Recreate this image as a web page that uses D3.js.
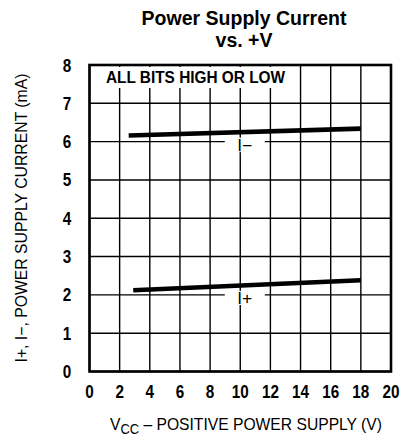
<!DOCTYPE html>
<html><head><meta charset="utf-8">
<script src="https://cdn.jsdelivr.net/npm/d3@7"></script>
<style>
html,body{margin:0;padding:0;background:#fff;}
svg{display:block;}
</style></head>
<body>
<svg id="chart" width="406" height="440"></svg>
<script>
// Data
const xTicks = [0, 2, 4, 6, 8, 10, 12, 14, 16, 18, 20];
const yTicks = [0, 1, 2, 3, 4, 5, 6, 7, 8];
const seriesNames = ["I−", "I+"];
const iMinusV = [2.6, 18];
const iMinusI = [6.16, 6.34];
const iPlusV = [2.9, 18];
const iPlusI = [2.12, 2.38];
const seriesLabelV = [10.3, 10.3];
const seriesLabelI = [6, 2];
const titleLines = ["Power Supply Current", "vs. +V"];
const yTitle = "I+, I−, POWER SUPPLY CURRENT (mA)";
const noteText = "ALL BITS HIGH OR LOW";

const svg = d3.select("#chart");
const m = {l: 89.5, r: 391, t: 65, b: 371.5};
const x = d3.scaleLinear().domain([0, 20]).range([m.l, m.r]);
const y = d3.scaleLinear().domain([0, 8]).range([m.b, m.t]);
const sans = "'Liberation Sans', Arial, sans-serif";

// Title (two lines)
svg.selectAll("text.title").data(titleLines).enter().append("text")
  .attr("class", "title")
  .attr("text-anchor", "middle")
  .attr("font-family", sans)
  .attr("font-weight", "bold").attr("font-size", 19.5)
  .attr("x", 244).attr("y", (d, i) => 25 + i * 22)
  .text(d => d);

// Grid
const g = svg.append("g");
g.selectAll("line.vg").data(xTicks).enter().append("line")
  .attr("x1", d => x(d)).attr("x2", d => x(d))
  .attr("y1", m.t).attr("y2", m.b)
  .attr("stroke", "#000").attr("stroke-width", 1.4);
g.selectAll("line.hg").data(yTicks).enter().append("line")
  .attr("x1", m.l).attr("x2", m.r)
  .attr("y1", d => y(d)).attr("y2", d => y(d))
  .attr("stroke", "#000").attr("stroke-width", 1.4);

// Note background & text
svg.append("rect").attr("x", m.l + 3).attr("y", m.t + 2).attr("width", 194).attr("height", 21).attr("fill", "#fff");
svg.append("text").attr("x", 106).attr("y", 83)
  .attr("font-family", sans).attr("font-weight", "bold").attr("font-size", 16)
  .attr("textLength", 179).attr("lengthAdjust", "spacingAndGlyphs")
  .text(noteText);

// Border
svg.append("rect").attr("x", m.l).attr("y", m.t).attr("width", m.r - m.l).attr("height", m.b - m.t)
  .attr("fill", "none").attr("stroke", "#000").attr("stroke-width", 2.6);

// Series lines
const line = d3.line().x(d => x(d[0])).y(d => y(d[1]));
const series = [d3.zip(iMinusV, iMinusI), d3.zip(iPlusV, iPlusI)];
svg.selectAll("path.s").data(series).enter().append("path")
  .attr("d", line).attr("fill", "none").attr("stroke", "#000").attr("stroke-width", 4.6);

// Series labels
seriesNames.forEach((n, i) => {
  const cx = x(seriesLabelV[i]), cy = y(seriesLabelI[i]);
  svg.append("rect").attr("x", cx - 20).attr("y", cy - 4).attr("width", 40).attr("height", 16).attr("fill", "#fff");
  svg.append("line").attr("x1", x(10)).attr("x2", x(10)).attr("y1", cy + 10).attr("y2", cy + 12)
    .attr("stroke", "#000").attr("stroke-width", 1.4);
  svg.append("text").attr("x", cx).attr("y", cy + 9)
    .attr("text-anchor", "middle")
    .attr("font-family", sans).attr("font-size", 16)
    .attr("textLength", 15).attr("lengthAdjust", "spacingAndGlyphs")
    .text(n);
});

// Tick labels (condensed bold)
svg.selectAll("text.xt").data(xTicks).enter().append("text")
  .attr("x", d => x(d)).attr("y", 398)
  .attr("text-anchor", "middle")
  .attr("font-family", sans).attr("font-weight", "bold").attr("font-size", 18)
  .attr("textLength", d => String(d).length * 8.5).attr("lengthAdjust", "spacingAndGlyphs")
  .text(d => d);
svg.selectAll("text.yt").data(yTicks).enter().append("text")
  .attr("x", 67).attr("y", d => y(d) + 6.5)
  .attr("text-anchor", "middle")
  .attr("font-family", sans).attr("font-weight", "bold").attr("font-size", 18)
  .attr("textLength", 8.5).attr("lengthAdjust", "spacingAndGlyphs")
  .text(d => d);

// Axis titles
const xt = svg.append("text").attr("x", 110).attr("y", 430)
  .attr("font-family", sans).attr("font-size", 17)
  .attr("textLength", 272).attr("lengthAdjust", "spacingAndGlyphs");
xt.append("tspan").text("V");
xt.append("tspan").attr("dy", 4).attr("font-size", 14).text("CC");
xt.append("tspan").attr("dy", -4).text(" – POSITIVE POWER SUPPLY (V)");

svg.append("text")
  .attr("transform", "translate(27,218) rotate(-90)")
  .attr("text-anchor", "middle")
  .attr("font-family", sans).attr("font-size", 16)
  .attr("textLength", 289).attr("lengthAdjust", "spacingAndGlyphs")
  .text(yTitle);
</script>
</body></html>
